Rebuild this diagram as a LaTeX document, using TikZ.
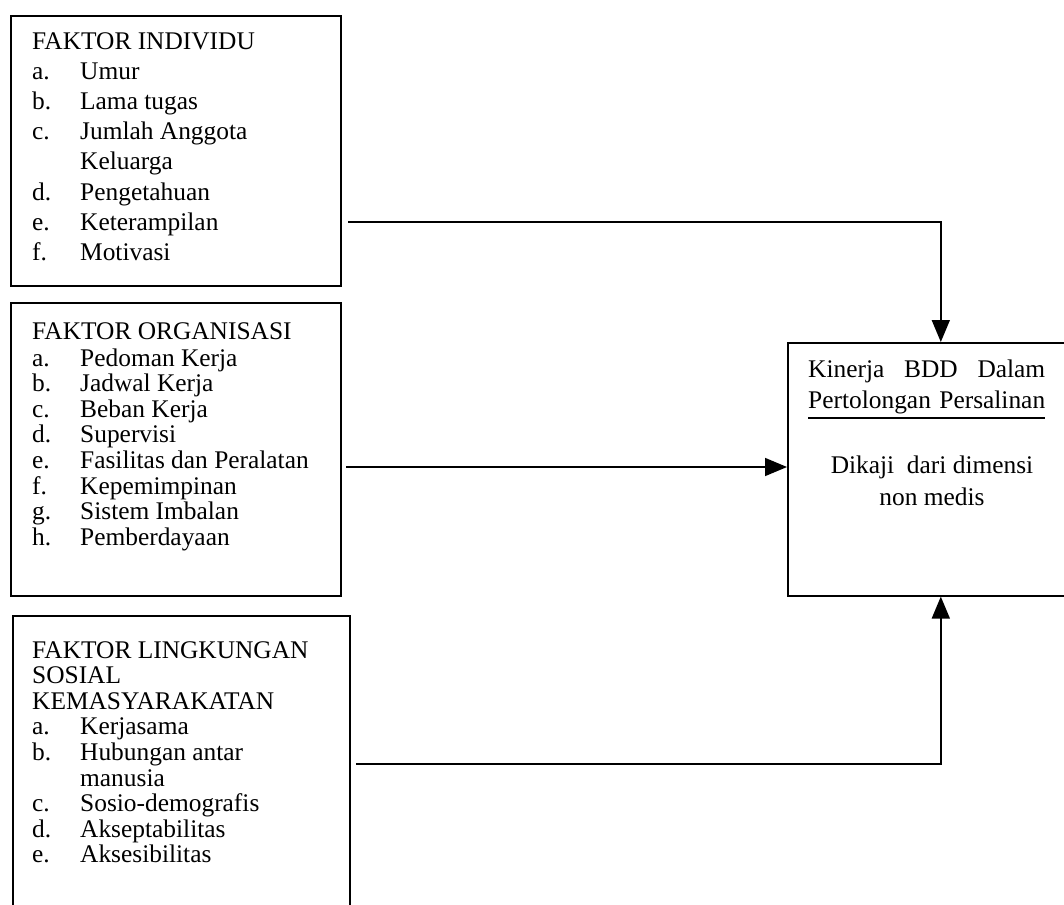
\documentclass[tikz,border=0pt]{standalone}
\usepackage{fontspec}
\setmainfont{Liberation Serif}
\usetikzlibrary{arrows.meta}
\begin{document}
\begin{tikzpicture}[x=1pt,y=-1pt,
  txt/.style={anchor=base west, inner sep=0pt, font=\fontsize{25.4}{29}\selectfont},
  ctxt/.style={anchor=base, inner sep=0pt, font=\fontsize{25.4}{29}\selectfont},
  box/.style={draw, line width=1.6pt, inner sep=0pt, anchor=north west},
  arr/.style={line width=1.6pt, -{Triangle[length=22pt,width=18pt]}}]
\useasboundingbox (0,0) rectangle (1064,904);
\clip (0,0) rectangle (1064,904);
% boxes
\node[box, minimum width=330pt, minimum height=270pt] (ind) at (10,15) {};
\node[box, minimum width=330pt, minimum height=293pt] (org) at (10,302) {};
\node[box, minimum width=337pt, minimum height=320pt] (lin) at (12,615) {};
\node[box, minimum width=306pt, minimum height=253pt] (kin) at (787,342) {};
% box 1 text
\node[txt] (t1) at (32,50) {FAKTOR INDIVIDU};
\foreach \lab/\itm/\yy [count=\k] in {a./Umur/80, b./Lama tugas/110, c./Jumlah Anggota/140, d./Pengetahuan/200, e./Keterampilan/230, f./Motivasi/260}
  {\node[txt] (l1a\k) at (32,\yy) {\lab}; \node[txt] (l1b\k) at (80,\yy) {\itm};}
\node[txt] (l1c) at (80,170) {Keluarga};
% box 2 text
\node[txt] (t2) at (32,339) {FAKTOR ORGANISASI};
\foreach \lab/\itm/\yy [count=\k] in {a./Pedoman Kerja/366, b./Jadwal Kerja/391.6, c./Beban Kerja/417.2, d./Supervisi/442.8, e./Fasilitas dan Peralatan/468.4, f./Kepemimpinan/494, g./Sistem Imbalan/519.6, h./Pemberdayaan/545.2}
  {\node[txt] (l2a\k) at (32,\yy) {\lab}; \node[txt] (l2b\k) at (80,\yy) {\itm};}
% box 3 text
\node[txt] (t3a) at (32,658) {FAKTOR LINGKUNGAN};
\node[txt] (t3b) at (32,683.6) {SOSIAL};
\node[txt] (t3c) at (32,709.2) {KEMASYARAKATAN};
\foreach \lab/\itm/\yy [count=\k] in {a./Kerjasama/734.8, b./Hubungan antar/760.4, c./Sosio-demografis/811.6, d./Akseptabilitas/837.2, e./Aksesibilitas/862.8}
  {\node[txt] (l3a\k) at (32,\yy) {\lab}; \node[txt] (l3b\k) at (80,\yy) {\itm};}
\node[txt] (l3c) at (80,786) {manusia};
% right box text
\node[txt] (k1) at (808,377) {\makebox[237pt][s]{Kinerja BDD Dalam}};
\node[txt] (k2) at (808,408) {\makebox[237pt][s]{Pertolongan Persalinan}};
\draw[line width=1.2pt] (k2.base west) ++(0,10) -- ++(237,0);
\node[ctxt] (k3) at (932,473) {Dikaji\ \ dari dimensi};
\node[ctxt] (k4) at (932,505) {non medis};
% connectors
\coordinate (s1) at (348,222);
\coordinate (s2) at (346,467);
\coordinate (s3) at (356,764);
\draw[arr] (s1) -| (kin.north);
\draw[arr] (s2) -- (kin.west |- s2);
\draw[arr] (s3) -| (kin.south);
\end{tikzpicture}
\end{document}
